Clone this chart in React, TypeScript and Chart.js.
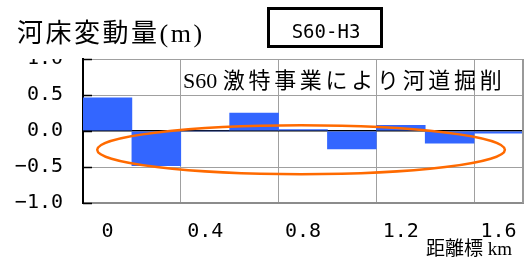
import React, { useEffect, useRef } from 'react';
import { Chart, registerables } from 'chart.js';

Chart.register(...registerables);

// ---- data ----
const distances = ['0', '0.2', '0.4', '0.6', '0.8', '1.0', '1.2', '1.4', '1.6'];
const bedChange = [0.46, -0.48, 0, 0.25, 0.02, -0.25, 0.08, -0.17, -0.03];
const xTickLabels = ['0', '', '0.4', '', '0.8', '', '1.2', '', '1.6'];
const yMin = -1.0;
const yMax = 1.0;
const yStep = 0.5;
const titleText = '河床変動量(m)';
const periodLabel = 'S60-H3';
const notePrefix = 'S60 ';
const noteBody = '激特事業により河道掘削';
const xAxisTitle = '距離標 km';
// highlight ellipse in data units (category index, metres)
const ellipseCenter = [3.96, -0.26];
const ellipseRadii = [4.17, 0.34];

const CJK_SERIF = '"Liberation Serif", "Noto Sans CJK JP", serif';
const MONO = '"DejaVu Sans Mono", monospace';

const decorPlugin = {
  id: 'decor',
  afterDatasetsDraw(chart: any) {
    const { ctx, chartArea, scales } = chart;
    const x = scales.x;
    const y = scales.y;
    // ellipse
    const cx = x.getPixelForValue(ellipseCenter[0]);
    const cy = y.getPixelForValue(ellipseCenter[1]);
    const rx = Math.abs(x.getPixelForValue(ellipseCenter[0] + ellipseRadii[0]) - cx);
    const ry = Math.abs(y.getPixelForValue(ellipseCenter[1] + ellipseRadii[1]) - cy);
    ctx.save();
    ctx.strokeStyle = '#ff6a00';
    ctx.lineWidth = 2.5;
    ctx.beginPath();
    ctx.ellipse(cx, cy, rx, ry, 0, 0, Math.PI * 2);
    ctx.stroke();
    // inward tick marks
    ctx.strokeStyle = '#000';
    ctx.lineWidth = 1.5;
    for (let v = yMin; v <= yMax + 1e-9; v += yStep) {
      const py = Math.round(y.getPixelForValue(v)) + 0.5;
      ctx.beginPath();
      ctx.moveTo(chartArea.left, py);
      ctx.lineTo(chartArea.left + 9, py);
      ctx.stroke();
    }
    // right frame
    ctx.strokeStyle = '#999';
    ctx.lineWidth = 2;
    ctx.beginPath();
    ctx.moveTo(chartArea.right, chartArea.top);
    ctx.lineTo(chartArea.right, chartArea.bottom);
    ctx.stroke();
    // note text
    ctx.fillStyle = '#000';
    ctx.textBaseline = 'alphabetic';
    ctx.textAlign = 'left';
    ctx.font = `22px ${CJK_SERIF}`;
    (ctx as any).letterSpacing = '0px';
    ctx.fillText(notePrefix, 183, 88);
    const w = ctx.measureText(notePrefix).width;
    (ctx as any).letterSpacing = '3.7px';
    ctx.fillText(noteBody, 183 + w, 88);
    ctx.restore();
  },
  afterDraw(chart: any) {
    const { ctx, chartArea } = chart;
    ctx.save();
    // hide upper part of top tick label (as in reference)
    ctx.fillStyle = '#fff';
    ctx.fillRect(0, 47, chartArea.left - 2, chartArea.top - 47);
    // title
    ctx.fillStyle = '#000';
    ctx.font = `26px ${CJK_SERIF}`;
    (ctx as any).letterSpacing = '2.5px';
    ctx.textAlign = 'left';
    ctx.textBaseline = 'alphabetic';
    ctx.fillText(titleText, 17, 42);
    // period box
    (ctx as any).letterSpacing = '0px';
    ctx.strokeStyle = '#000';
    ctx.lineWidth = 3;
    ctx.strokeRect(268.5, 8.5, 113, 38);
    ctx.font = `19px ${MONO}`;
    ctx.textAlign = 'center';
    ctx.textBaseline = 'middle';
    ctx.fillText(periodLabel, 326, 33);
    // x axis title
    ctx.font = `19px ${CJK_SERIF}`;
    ctx.textAlign = 'left';
    ctx.textBaseline = 'alphabetic';
    ctx.fillText(xAxisTitle, 426, 255);
    ctx.restore();
  },
};

export default function App() {
  const ref = useRef<HTMLCanvasElement>(null);
  useEffect(() => {
    if (!ref.current) return;
    const chart = new Chart(ref.current, {
      type: 'bar',
      data: {
        labels: distances,
        datasets: [
          {
            data: bedChange,
            backgroundColor: '#3366ff',
            borderWidth: 0,
            categoryPercentage: 1,
            barPercentage: 1,
          },
        ],
      },
      options: {
        animation: false,
        responsive: true,
        maintainAspectRatio: false,
        layout: { padding: { top: 59, right: 9, left: 0, bottom: 0 } },
        plugins: { legend: { display: false }, tooltip: { enabled: false }, title: { display: false } },
        scales: {
          x: {
            type: 'category',
            offset: true,
            afterFit: (s: any) => {
              s.height = 61;
              s.paddingLeft = 0;
              s.paddingRight = 0;
            },
            grid: {
              offset: true,
              drawTicks: false,
              color: (c: any) => (c.index > 0 && c.index % 2 === 0 && c.index < distances.length ? '#a0a0a0' : 'rgba(0,0,0,0)'),
              lineWidth: 1,
            },
            border: { display: true, color: '#8c8c8c', width: 2 },
            ticks: {
              autoSkip: false,
              maxRotation: 0,
              padding: 17,
              color: '#000',
              font: { family: MONO, size: 20 },
              callback: (_v: any, i: number) => xTickLabels[i],
            },
          },
          y: {
            min: yMin,
            max: yMax,
            afterFit: (s: any) => {
              s.width = 83;
              s.paddingTop = 0;
              s.paddingBottom = 0;
            },
            grid: {
              drawTicks: false,
              color: (c: any) => (c.tick && c.tick.value === 0 ? '#000' : '#a0a0a0'),
              lineWidth: (c: any) => (c.tick && c.tick.value === 0 ? 1.5 : 1),
            },
            border: { display: true, color: '#000', width: 2 },
            ticks: {
              stepSize: yStep,
              padding: 20,
              color: '#000',
              font: { family: MONO, size: 20 },
              callback: (v: any) => {
                const n = Number(v);
                const s = Math.abs(n).toFixed(1);
                return n < 0 ? '\u2212' + s : s;
              },
            },
          },
        },
      },
      plugins: [decorPlugin],
    } as any);
    return () => chart.destroy();
  }, []);
  return (
    <div style={{ position: 'fixed', left: 0, top: 0, width: 532, height: 264, background: '#fff' }}>
      <canvas ref={ref} />
    </div>
  );
}
